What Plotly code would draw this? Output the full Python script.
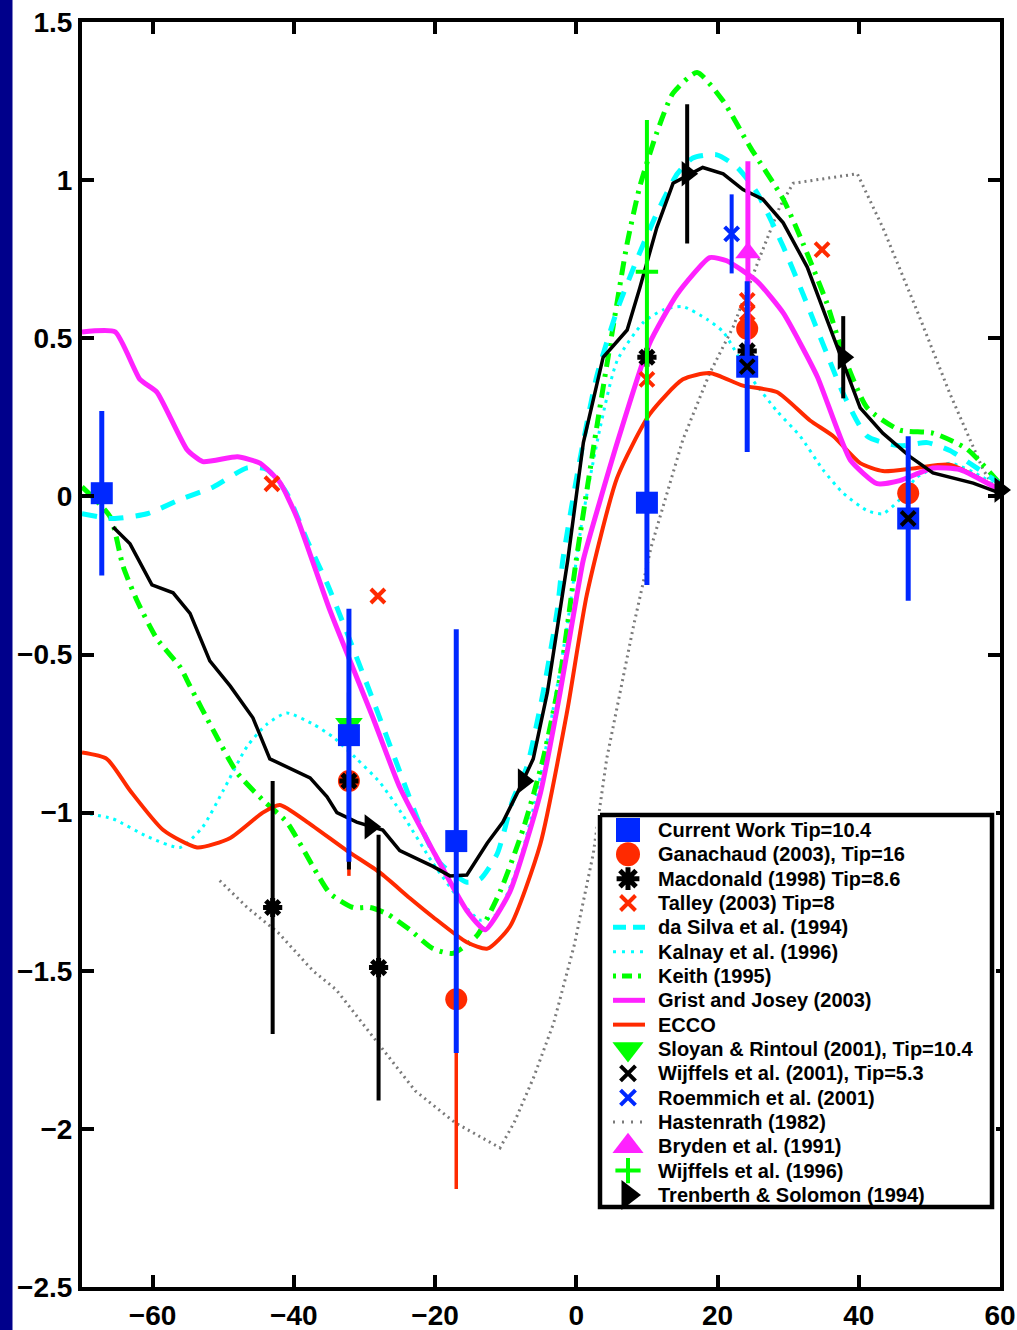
import plotly.graph_objects as go

# ---------------- data ----------------
# Current Work Tip=10.4
cw_x = [-67.2, -32.2, -17.0, 10.0, 24.2, 47.0]
cw_y = [0.01, -0.755, -1.09, -0.02, 0.41, -0.07]
cw_e = [0.26, 0.40, 0.67, 0.26, 0.27, 0.26]

# Ganachaud (2003), Tip=16
ga_x = [-32.2, -17.0, 24.2, 47.0]
ga_y = [-0.90, -1.59, 0.53, 0.01]
ga_e = [0.30, 0.60, 0.05, 0.15]

# Macdonald (1998) Tip=8.6
md_x = [-43.0, -32.2, -28.0, 10.0, 24.2]
md_y = [-1.30, -0.90, -1.49, 0.44, 0.46]
md_e = [0.40, 0.28, 0.42, 0.0, 0.0]

# Talley (2003) Tip=8
ta_x = [-43.1, -28.1, 10.0, 24.2, 24.2, 34.8]
ta_y = [0.04, -0.315, 0.37, 0.62, 0.58, 0.78]

# da Silva et al. (1994)
ds_x = [-70, -65.6, -60.8, -56.1, -51.4, -46.6, -43.8, -41, -38.1, -35.3, -32.5, -29.2,
        -25, -22.1, -19.3, -15.5, -13.6, -11.2, -9, -7, -4.7, -2.7, -1.9, 0.5, 2.9, 5.8,
        8.6, 11.4, 14.3, 16.5, 19.9, 22.8, 25.6, 29.3, 32.1, 35.5, 37.8, 41.2, 45.8, 49.7,
        52.9, 56.7, 60]
ds_y = [-0.055, -0.07, -0.055, -0.01, 0.03, 0.09, 0.085, 0.01, -0.14, -0.275, -0.43, -0.62,
        -0.87, -1.04, -1.16, -1.22, -1.21, -1.13, -0.96, -0.855, -0.62, -0.36, -0.2, 0.115,
        0.38, 0.59, 0.75, 0.895, 1.02, 1.07, 1.08, 1.04, 0.96, 0.79, 0.64, 0.45, 0.325, 0.19,
        0.16, 0.17, 0.145, 0.09, 0.04]

# Kalnay et al. (1996)
ka_x = [-70, -65.6, -60.8, -56.1, -52.9, -50, -46.6, -43.8, -41, -37.3, -34.5, -31.1, -27.8,
        -24.5, -20.3, -16, -13.6, -11.2, -8, -5.6, -3.3, -1.3, 0.8, 3.4, 5.8, 9.5, 12.3,
        15.1, 18.5, 20.8, 24.6, 28.4, 31.7, 34.9, 37.8, 41.2, 43.4, 45.8, 48.2, 52.9, 57.6, 60]
ka_y = [-1.0, -1.02, -1.075, -1.11, -1.045, -0.93, -0.79, -0.72, -0.685, -0.72, -0.76, -0.83,
        -0.905, -1.01, -1.16, -1.29, -1.34, -1.32, -1.15, -0.94, -0.675, -0.41, -0.08, 0.22,
        0.43, 0.55, 0.59, 0.60, 0.56, 0.52, 0.38, 0.27, 0.19, 0.085, 0.01, -0.045, -0.055,
        -0.01, 0.06, 0.105, 0.06, 0.02]

# Keith (1995)
ke_x = [-70, -66, -64.2, -62.2, -59.4, -56.1, -54.7, -51.4, -48, -44.4, -41, -37.3, -34.9,
        -31.6, -29.2, -26.8, -23.6, -20.3, -17.5, -14.1, -10.8, -7.5, -4.7, -2.3, 0.0, 2.9,
        5.2, 7.2, 9, 11.4, 13.7, 17.1, 20.8, 24.6, 29.3, 32.1, 35.5, 37.8, 41.2, 45.8, 50.5,
        55.3, 60]
ke_y = [0.03, -0.065, -0.22, -0.33, -0.45, -0.54, -0.60, -0.74, -0.875, -0.96, -1.03, -1.17,
        -1.255, -1.30, -1.30, -1.32, -1.37, -1.43, -1.445, -1.39, -1.25, -1.05, -0.83, -0.57,
        -0.2, 0.22, 0.535, 0.80, 0.98, 1.15, 1.275, 1.34, 1.25, 1.105, 0.94, 0.80, 0.61, 0.45,
        0.28, 0.21, 0.20, 0.15, 0.04]

# Grist and Josey (2003)
gj_x = [-70, -65.3, -61.8, -59.4, -55.1, -52.9, -48.0, -44.8, -42, -39.6, -34.9, -28.8, -25,
        -20.3, -15.5, -12.9, -9.4, -5.1, -2.3, 0.1, 1.0, 5.8, 10.4, 14.3, 18.9, 21.3, 25.6,
        29.3, 34.1, 38.8, 42.6, 45.8, 50.5, 54.3, 60]
gj_y = [0.52, 0.52, 0.37, 0.33, 0.147, 0.11, 0.125, 0.105, 0.045, -0.065, -0.36, -0.70, -0.92,
        -1.12, -1.31, -1.37, -1.25, -0.94, -0.62, -0.31, -0.20, 0.17, 0.485, 0.64, 0.755, 0.745,
        0.68, 0.58, 0.38, 0.115, 0.04, 0.05, 0.09, 0.085, 0.02]

# ECCO
ec_x = [-70, -66.5, -63.2, -58.5, -53.7, -49.0, -44.4, -42, -38.1, -32.5, -27.8, -23.6, -20.3,
        -15.5, -12.6, -9.4, -5.1, -1.3, 1.5, 5.8, 10.4, 15.1, 18.9, 23.6, 28.4, 33.1, 36.4,
        40.2, 43.4, 48.2, 52.9, 60]
ec_y = [-0.81, -0.83, -0.93, -1.055, -1.11, -1.08, -1.0, -0.976, -1.03, -1.12, -1.19, -1.27,
        -1.33, -1.41, -1.43, -1.36, -1.10, -0.68, -0.31, 0.06, 0.26, 0.37, 0.39, 0.35, 0.33,
        0.24, 0.19, 0.105, 0.08, 0.09, 0.10, 0.02]

# Sloyan & Rintoul (2001), Tip=10.4
sr_x = [-32.2]
sr_y = [-0.72]

# Wijffels et al. (2001), Tip=5.3
w1_x = [24.2, 47.0]
w1_y = [0.41, -0.07]

# Roemmich et al. (2001)
ro_x = [22.0]
ro_y = [0.83]
ro_e = [0.125]

# Hastenrath (1982)
ha_x = [-50.5, -46.6, -42.2, -37.3, -34, -28.4, -22.8, -17.2, -10.8, -8.8, -6, -3.2, -0.3,
        2.4, 4.3, 6.2, 8.1, 10.6, 15.1, 18.9, 22.2, 26, 28.8, 30.7, 39.8, 43.4, 48.2, 52.9,
        57.6, 60]
ha_y = [-1.215, -1.30, -1.38, -1.50, -1.56, -1.72, -1.88, -1.98, -2.06, -1.98, -1.835, -1.665,
        -1.42, -1.13, -0.83, -0.62, -0.41, -0.16, 0.18, 0.39, 0.535, 0.757, 0.915, 0.99, 1.02,
        0.85, 0.59, 0.325, 0.085, 0.0]

# Bryden et al. (1991)
br_x = [24.3]
br_y = [0.77]
br_e = [0.29]

# Wijffels et al. (1996)
w6_x = [10.0]
w6_y = [0.71]
w6_e = [0.48]

# Trenberth & Solomon (1994)
ts_x = [-29.2, -7.5, 15.7, 37.8, 60.0]
ts_y = [-1.045, -0.90, 1.02, 0.44, 0.02]
ts_e = [0.0, 0.0, 0.22, 0.13, 0.0]

# black curve (Trenberth & Solomon)
tl_x = [-65.6, -63.2, -60.1, -57.1, -54.7, -51.9, -49, -45.8, -43.4, -37.7, -35.3, -33.9,
        -31.1, -27.4, -25, -20.3, -17.9, -15.5, -12.6, -10.4, -8.4, -6.1, -4.1, -2.3, -1.2,
        1.0, 3.8, 7.2, 9.0, 11.4, 13.7, 17.9, 20.8, 23.6, 26.4, 29.3, 32.7, 36.4, 40.2, 43.4,
        47.3, 50.5, 56.2, 60]
tl_y = [-0.097, -0.15, -0.28, -0.305, -0.37, -0.52, -0.60, -0.70, -0.83, -0.89, -0.95, -1.0,
        -1.03, -1.055, -1.12, -1.17, -1.20, -1.197, -1.096, -1.03, -0.94, -0.83, -0.62, -0.36,
        -0.20, 0.17, 0.44, 0.526, 0.66, 0.85, 0.99, 1.04, 1.02, 0.97, 0.94, 0.865, 0.725,
        0.505, 0.28, 0.20, 0.125, 0.074, 0.042, 0.01]

x_ticks = [-60, -40, -20, 0, 20, 40, 60]
y_ticks = [1.5, 1, 0.5, 0, -0.5, -1, -1.5, -2, -2.5]

legend_labels = [
    "Current Work Tip=10.4",
    "Ganachaud (2003), Tip=16",
    "Macdonald (1998) Tip=8.6",
    "Talley (2003) Tip=8",
    "da Silva et al. (1994)",
    "Kalnay et al. (1996)",
    "Keith (1995)",
    "Grist and Josey (2003)",
    "ECCO",
    "Sloyan & Rintoul (2001), Tip=10.4",
    "Wijffels et al. (2001), Tip=5.3",
    "Roemmich et al. (2001)",
    "Hastenrath (1982)",
    "Bryden et al. (1991)",
    "Wijffels et al. (1996)",
    "Trenberth & Solomon (1994)",
]

# ---------------- styles ----------------
BLUE = "#0028ff"
RED = "#ff2a00"
BLACK = "#000000"
CYAN = "#00ffff"
GREEN = "#00ff00"
MAGENTA = "#ff22ff"
GREY = "#7a7a7a"

FONT = "Liberation Sans, Arial, sans-serif"

line_style = {
    "da Silva et al. (1994)": dict(color=CYAN, width=5, dash="15px,12px"),
    "Kalnay et al. (1996)": dict(color=CYAN, width=3, dash="3px,5px"),
    "Keith (1995)": dict(color=GREEN, width=5, dash="14px,7px,3px,7px"),
    "Grist and Josey (2003)": dict(color=MAGENTA, width=5),
    "ECCO": dict(color=RED, width=4),
    "Hastenrath (1982)": dict(color=GREY, width=3, dash="2px,4px"),
}
legend_line_dash = {
    "da Silva et al. (1994)": "13px,7px",
    "Kalnay et al. (1996)": "3px,6px",
    "Keith (1995)": "3px,6px,10px,6px",
    "Hastenrath (1982)": "2px,7px",
}
marker_style = {
    "Current Work Tip=10.4": dict(symbol="square", size=22, color=BLUE),
    "Ganachaud (2003), Tip=16": dict(symbol="circle", size=22, color=RED),
    "Macdonald (1998) Tip=8.6": dict(symbol="asterisk-open", size=16, color=BLACK,
                                     line=dict(color=BLACK, width=5)),
    "Talley (2003) Tip=8": dict(symbol="x-thin-open", size=14, color=RED,
                                line=dict(color=RED, width=4)),
    "Sloyan & Rintoul (2001), Tip=10.4": dict(symbol="triangle-down", size=24, color=GREEN),
    "Wijffels et al. (2001), Tip=5.3": dict(symbol="x-thin-open", size=14, color=BLACK,
                                            line=dict(color=BLACK, width=4)),
    "Roemmich et al. (2001)": dict(symbol="x-thin-open", size=14, color=BLUE,
                                   line=dict(color=BLUE, width=4)),
    "Bryden et al. (1991)": dict(symbol="triangle-up", size=22, color=MAGENTA),
    "Wijffels et al. (1996)": dict(symbol="cross-thin-open", size=16, color=GREEN,
                                   line=dict(color=GREEN, width=4)),
    "Trenberth & Solomon (1994)": dict(symbol="triangle-right", size=22, color=BLACK),
}
legend_marker_size = {
    "Current Work Tip=10.4": 24,
    "Ganachaud (2003), Tip=16": 24,
    "Macdonald (1998) Tip=8.6": 19,
    "Talley (2003) Tip=8": 15,
    "Sloyan & Rintoul (2001), Tip=10.4": 27,
    "Wijffels et al. (2001), Tip=5.3": 15,
    "Roemmich et al. (2001)": 15,
    "Bryden et al. (1991)": 27,
    "Wijffels et al. (1996)": 18,
    "Trenberth & Solomon (1994)": 26,
}

fig = go.Figure()


def err(arr, color, th=4):
    return dict(type="data", array=arr, visible=True, color=color, thickness=th, width=0)


def add_line(x, y, name, shape="spline", smoothing=0.6):
    st = dict(line_style[name])
    if shape == "spline":
        st.update(shape="spline", smoothing=smoothing)
    fig.add_trace(go.Scatter(x=x, y=y, mode="lines", name=name, showlegend=False, line=st))


def add_pts(x, y, name, e=None, ecol=None, eth=4):
    kw = {}
    if e is not None:
        kw["error_y"] = err(e, ecol, eth)
    fig.add_trace(go.Scatter(x=x, y=y, mode="markers", name=name, showlegend=False,
                             marker=marker_style[name], cliponaxis=False, **kw))


# lines first
add_line(ha_x, ha_y, "Hastenrath (1982)", shape="linear")
add_line(ka_x, ka_y, "Kalnay et al. (1996)")
add_line(ke_x, ke_y, "Keith (1995)")
add_line(ds_x, ds_y, "da Silva et al. (1994)")
add_line(ec_x, ec_y, "ECCO")
add_line(gj_x, gj_y, "Grist and Josey (2003)", smoothing=0.5)
fig.add_trace(go.Scatter(x=tl_x, y=tl_y, mode="lines", showlegend=False, hoverinfo="skip",
                         line=dict(color=BLACK, width=3.5)))

# points
add_pts(ga_x, ga_y, "Ganachaud (2003), Tip=16", ga_e, RED, 3.5)
add_pts(md_x, md_y, "Macdonald (1998) Tip=8.6", md_e, BLACK, 4)
add_pts(ta_x, ta_y, "Talley (2003) Tip=8")
add_pts(sr_x, sr_y, "Sloyan & Rintoul (2001), Tip=10.4")
add_pts(w6_x, w6_y, "Wijffels et al. (1996)", w6_e, GREEN, 4)
add_pts(br_x, br_y, "Bryden et al. (1991)", br_e, MAGENTA, 5)
add_pts(ro_x, ro_y, "Roemmich et al. (2001)", ro_e, BLUE, 4)
add_pts(ts_x, ts_y, "Trenberth & Solomon (1994)", ts_e, BLACK, 4)
add_pts(cw_x, cw_y, "Current Work Tip=10.4", cw_e, BLUE, 5)
add_pts(w1_x, w1_y, "Wijffels et al. (2001), Tip=5.3")

# ---------------- legend box (overlay axes in pixel units) ----------------
L_W, L_H = 392, 392
ROW0, ROW_STEP = 15, 24.33
SYM_X, LINE_X0, LINE_X1, TEXT_X = 28, 13, 45, 56

fig.add_trace(go.Scatter(x=[0, L_W, L_W, 0, 0], y=[0, 0, L_H, L_H, 0], mode="lines",
                         fill="toself", fillcolor="white", line=dict(color="black", width=4.5),
                         xaxis="x2", yaxis="y2", showlegend=False, hoverinfo="skip"))
annotations = []
for i, lab in enumerate(legend_labels):
    yc = ROW0 + ROW_STEP * i
    if lab in line_style:
        st = dict(line_style[lab])
        if lab in legend_line_dash:
            st["dash"] = legend_line_dash[lab]
        fig.add_trace(go.Scatter(x=[LINE_X0, LINE_X1], y=[yc, yc], mode="lines", line=st,
                                 xaxis="x2", yaxis="y2", showlegend=False, hoverinfo="skip"))
    else:
        mk = dict(marker_style[lab])
        mk["size"] = legend_marker_size[lab]
        fig.add_trace(go.Scatter(x=[SYM_X], y=[yc], mode="markers", marker=mk, cliponaxis=False,
                                 xaxis="x2", yaxis="y2", showlegend=False, hoverinfo="skip"))
    annotations.append(dict(x=TEXT_X, y=yc, xref="x2", yref="y2", text=lab, showarrow=False,
                            xanchor="left", yanchor="middle",
                            font=dict(family=FONT, size=20, color="black", weight="bold")))

tickfont = dict(family=FONT, size=28, color="black", weight="bold")

PW, PH = 918, 1265  # plot area size in px (margins l=82, r=17, t=22, b=43)
bx0, by0 = 600, 815  # legend box top-left in page px
pad = 4
fig.update_layout(
    width=1017, height=1330,
    margin=dict(l=82, r=17, t=22, b=43, autoexpand=False),
    paper_bgcolor="white", plot_bgcolor="white",
    showlegend=False,
    xaxis=dict(range=[-70, 60], tickvals=x_ticks, ticks="inside", ticklen=12, tickwidth=4,
               tickcolor="black", showline=True, linewidth=4, linecolor="black",
               mirror="allticks", showgrid=False, zeroline=False, tickfont=tickfont,
               automargin=False, domain=[0, 1]),
    yaxis=dict(range=[-2.5, 1.5], tickvals=y_ticks, ticks="inside", ticklen=12, tickwidth=4,
               tickcolor="black", showline=True, linewidth=4, linecolor="black",
               mirror="allticks", showgrid=False, zeroline=False, tickfont=tickfont,
               automargin=False, domain=[0, 1]),
    xaxis2=dict(domain=[(bx0 - pad - 82) / PW, (bx0 + L_W + pad - 82) / PW],
                range=[-pad, L_W + pad], visible=False, anchor="y2", fixedrange=True),
    yaxis2=dict(domain=[(1287 - (by0 + L_H + pad)) / PH, (1287 - (by0 - pad)) / PH],
                range=[L_H + pad, -pad], visible=False, anchor="x2", fixedrange=True),
    annotations=annotations,
    shapes=[dict(type="rect", xref="paper", yref="paper",
                 x0=-82 / PW, x1=-69.5 / PW, y0=-43 / PH, y1=1 + 22 / PH,
                 fillcolor="#00008b", line=dict(width=0), layer="above")],
)

fig.write_html("out.html", config={"displayModeBar": False},
               post_script="document.body.style.margin='0px';document.body.style.overflow='hidden';")
